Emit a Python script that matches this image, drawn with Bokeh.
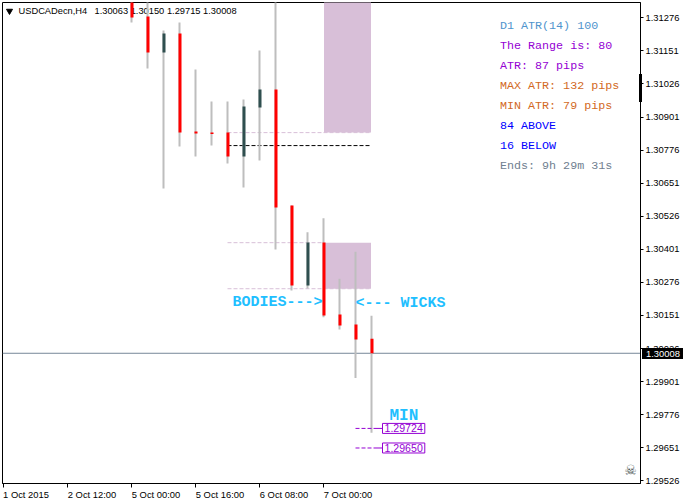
from bokeh.plotting import figure
from bokeh.layouts import column
from bokeh.models import Label, Div, FixedTicker, Range1d, BoxAnnotation
from bokeh.embed import file_html
from bokeh.resources import INLINE

# ---- data ----
bars = list(range(16))
highs = [1.31340, 1.31340, 1.31228, 1.31258, 1.31081, 1.30960, 1.30960, 1.30967, 1.31152, 1.31340, 1.30567, 1.30465, 1.30518, 1.30290, 1.30392, 1.30150]
lows = [1.31258, 1.31084, 1.30631, 1.30790, 1.30752, 1.30793, 1.30725, 1.30635, 1.30737, 1.30400, 1.30245, 1.30253, 1.30144, 1.30098, 1.29915, 1.29708]
opens = [1.31340, 1.31281, 1.31145, 1.31217, 1.30846, 1.30842, 1.30842, 1.30752, 1.30937, 1.31005, 1.30567, 1.30264, 1.30427, 1.30155, 1.30117, 1.30063]
closes = [1.31277, 1.31145, 1.31217, 1.30842, 1.30839, 1.30837, 1.30752, 1.30941, 1.31005, 1.30559, 1.30264, 1.30427, 1.30151, 1.30113, 1.30060, 1.30008]

y_ticks = [1.31276, 1.31151, 1.31026, 1.30901, 1.30776, 1.30651, 1.30526, 1.30401, 1.30276, 1.30151, 1.30026, 1.29901, 1.29776, 1.29651, 1.29526]
x_ticks = [-8, -4, 0, 4, 8, 12]
x_labels = ["1 Oct 2015", "2 Oct 12:00", "5 Oct 00:00", "5 Oct 16:00", "6 Oct 08:00", "7 Oct 00:00"]

symbol = "USDCADecn,H4"
ohlc_text = "1.30063 1.30150 1.29715 1.30008"
current_price = 1.30008
panel_lines = ["D1 ATR(14) 100", "The Range is: 80", "ATR: 87 pips", "MAX ATR: 132 pips",
               "MIN ATR: 79 pips", "84 ABOVE", "16 BELOW", "Ends: 9h 29m 31s"]
panel_colors = ["#4F94CD", "#9400D3", "#9400D3", "#D2691E", "#D2691E", "#0000FF", "#0000FF", "#708090"]

level_top = 1.30842
level_mid = 1.30793
level_up = 1.30426
level_low = 1.30252
min_levels = [1.29724, 1.29650]

FONT = "Liberation Sans"
MONO = "Liberation Mono"
UP = "#2F4F4F"
DOWN = "#FF0000"
WICK = "#BEBEBE"
THISTLE = "#D8BFD8"
VIOLET = "#9400D3"
SKY = "#1FBFFF"

H = 501

def px_x(px):
    return (px - 131.0) / 16.0

def px_y(py):
    return 1.31276 - (py - 17.3) / 26457.0

def sx(px):
    return px - 2

def sy(py):
    return 483 - py

p = figure(width=683, height=H, frame_width=638, frame_height=481,
           x_range=Range1d(px_x(2), px_x(640)), y_range=Range1d(px_y(483), px_y(2)),
           output_backend="svg", toolbar_location=None, tools="",
           min_border_left=2, min_border_top=2, min_border_right=43, min_border_bottom=18,
           x_axis_location="below", y_axis_location="right",
           background_fill_color="white", border_fill_color="white")
p.grid.visible = False
p.outline_line_color = "black"
p.outline_line_width = 1

ax = p.yaxis[0]
ax.ticker = FixedTicker(ticks=y_ticks)
ax.major_label_overrides = {t: f"{t:.5f}" for t in y_ticks}
ax.major_label_text_font = FONT
ax.major_label_text_font_size = "9.4px"
ax.major_label_text_color = "black"
ax.major_tick_out = 3
ax.major_tick_in = 0
ax.minor_tick_out = 0
ax.minor_tick_in = 0
ax.major_label_standoff = 2
ax.axis_line_color = "black"
ax.major_tick_line_color = "black"

# Bottom axis: visible marks are the minor ticks; labels hang to the right of them
label_halves = [22.5 if len(s) == 10 else 24.5 for s in x_labels]
label_centres = [t + h / 16.0 for t, h in zip(x_ticks, label_halves)]
bx = p.xaxis[0]
bx.ticker = FixedTicker(ticks=label_centres, minor_ticks=x_ticks)
bx.major_label_overrides = dict(zip(label_centres, x_labels))
bx.major_label_text_font = FONT
bx.major_label_text_font_size = "9.4px"
bx.major_label_text_color = "black"
bx.major_label_standoff = 1
bx.major_tick_out = 4
bx.major_tick_in = 0
bx.major_tick_line_color = None
bx.minor_tick_out = 4
bx.minor_tick_in = 0
bx.minor_tick_line_color = "black"
bx.axis_line_color = "black"

# header behind the candles
for s, x in [(symbol, 18), (ohlc_text, 94)]:
    p.add_layout(Label(x=sx(x), y=sy(10.5), x_units="screen", y_units="screen", text=s,
                       text_font=FONT, text_font_size="9.3px", text_color="black",
                       text_baseline="middle", level="underlay"))
p.scatter([px_x(9)], [px_y(10.5)], marker="inverted_triangle", size=6, color="black")

# range boxes
p.quad(left=[px_x(323.5)] * 2, right=[px_x(370.5)] * 2, top=[px_y(0), level_up],
       bottom=[level_top, level_low], fill_color=THISTLE, line_color=None, level="underlay")

# dashed levels
dash_x0, dash_x1 = px_x(227), px_x(369)
p.segment([dash_x0] * 3, [level_top, level_up, level_low], [dash_x1, px_x(323), dash_x1],
          [level_top, level_up, level_low], line_color=THISTLE, line_dash="4 2", line_width=1)
p.segment([dash_x0], [level_mid], [dash_x1], [level_mid], line_color="black", line_dash="4 2", line_width=1)

# current price line
p.line([px_x(2), px_x(640)], [current_price] * 2, line_color="#778899", line_width=1)

# candles
p.segment(bars, highs, bars, lows, line_color=WICK, line_width=2, line_cap="butt")
colors = [UP if c > o else DOWN for o, c in zip(opens, closes)]
p.segment([b + 1 / 32 for b in bars], opens, [b + 1 / 32 for b in bars], closes,
          line_color=colors, line_width=3, line_cap="butt")

# min level leaders
p.segment([px_x(355)] * 2, min_levels, [px_x(373)] * 2, min_levels, line_color=VIOLET, line_dash="4 2", line_width=1)
p.segment([px_x(373)] * 2, min_levels, [px_x(382)] * 2, min_levels, line_color=VIOLET, line_width=1)
for lv in min_levels:
    p.add_layout(Label(x=sx(382), y=lv, x_units="screen", y_units="data", text=f"{lv:.5f}",
                       text_font=FONT, text_font_size="10.6px", text_color=VIOLET,
                       text_baseline="middle", padding=(2, 1), background_fill_color="white",
                       border_line_color=VIOLET, border_line_width=1))

# stats panel
for i, (s, c) in enumerate(zip(panel_lines, panel_colors)):
    p.add_layout(Label(x=sx(499.5), y=sy(25 + 20 * i), x_units="screen", y_units="screen", text=s,
                       text_font=MONO, text_font_size="11.7px", text_color=c,
                       text_baseline="middle"))

# annotations
for s, x, y, fs in [("BODIES--->", 232, 301.5, "15px"), ("<--- WICKS", 355, 302.5, "15px"), ("MIN", 389, 415, "16px")]:
    p.add_layout(Label(x=sx(x), y=sy(y), x_units="screen", y_units="screen", text=s,
                       text_font=MONO, text_font_style="bold", text_font_size=fs, text_color=SKY,
                       text_baseline="middle"))

# skull mark
p.add_layout(Label(x=sx(630), y=sy(469), x_units="screen", y_units="screen", text="\u2620",
                   text_font="DejaVu Sans", text_font_size="14px", text_color="#4A5555",
                   text_align="center", text_baseline="middle"))

# Parts of the terminal window that sit over the price axis
def overlay(left, top, width, height, text=""):
    return Div(text=text, width=width, height=height, margin=0,
               styles={"position": "absolute", "left": f"{left}px", "top": f"{top}px", "z-index": "10",
                       "background": "black", "color": "white", "font-family": FONT, "font-size": "9.4px",
                       "line-height": f"{height}px", "padding-left": "4px" if text else "0px",
                       "box-sizing": "border-box", "overflow": "hidden"})

price_tag = overlay(642, 348, 41, 11, f"{current_price:.5f}")
scroll_mark = overlay(639, 74, 3, 28)

root = column(p, price_tag, scroll_mark, spacing=0)
open("out.html", "w").write(file_html(root, INLINE))
